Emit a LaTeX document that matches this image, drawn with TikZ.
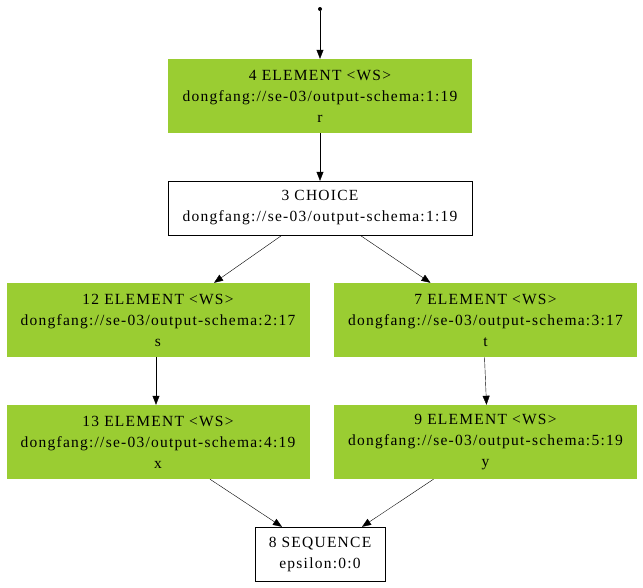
\documentclass[tikz,border=0pt]{standalone}
\usepackage{fontspec}
\setmainfont{Liberation Serif}[LetterSpace = 8]
\usetikzlibrary{arrows.meta}
\definecolor{ygreen}{HTML}{9ACD32}
\begin{document}
\begin{tikzpicture}[
                x = 1pt, y = -1pt,
                dot/.style = {circle, fill, inner sep = 0mm, minimum size = 4pt},
                elem/.style = {fill = ygreen, inner sep = 0mm, minimum width = 303pt, minimum height = 74pt, align = center, font = \fontsize{15.5}{21}\selectfont},
                box/.style = {draw, thin, fill = white, inner sep = 0mm, minimum height = 54pt, align = center, font = \fontsize{15.5}{21}\selectfont},
                arr/.style = {draw, thin, -{Triangle[length = 9pt, width = 7pt]}},
            ]
            \useasboundingbox (0, 0) rectangle (643, 587);

            \node (start) at (320, 9) [dot] {};

            \node (E4) at (320, 96) [elem, minimum width = 304pt] {4 ELEMENT <WS>\\dongfang://se-03/output-schema:1:19\\r};
            \node (C3) at (320, 208) [box, minimum width = 304pt] {3 CHOICE\\dongfang://se-03/output-schema:1:19};

            \node (E12) at (158, 320) [elem] {12 ELEMENT <WS>\\dongfang://se-03/output-schema:2:17\\s};
            \node (E7) at (485.5, 320) [elem] {7 ELEMENT <WS>\\dongfang://se-03/output-schema:3:17\\t};

            \node (E13) at (158, 442) [elem] {13 ELEMENT <WS>\\dongfang://se-03/output-schema:4:19\\x};
            \node (E9) at (485.5, 442) [elem] {9 ELEMENT <WS>\\dongfang://se-03/output-schema:5:19\\y};

            \node (S8) at (320, 554) [box, minimum width = 130pt] {8 SEQUENCE\\epsilon:0:0};

            \path[arr] (start) -- (E4);
            \path[arr] (E4) -- (C3);
            \path[arr] ([xshift = -38pt]C3.south) -- ([xshift = 56pt]E12.north);
            \path[arr] ([xshift = 40pt]C3.south) -- ([xshift = -55pt]E7.north);
            \path[arr] ([xshift = -2pt]E12.south) -- ([xshift = -2pt]E13.north);
            \path[arr] ([xshift = -1pt]E7.south) -- ([xshift = 1pt]E9.north);
            \path[arr] ([xshift = 52pt]E13.south) -- ([xshift = -38pt]S8.north);
            \path[arr] ([xshift = -52pt]E9.south) -- ([xshift = 42pt]S8.north);
        \end{tikzpicture}
\end{document}
